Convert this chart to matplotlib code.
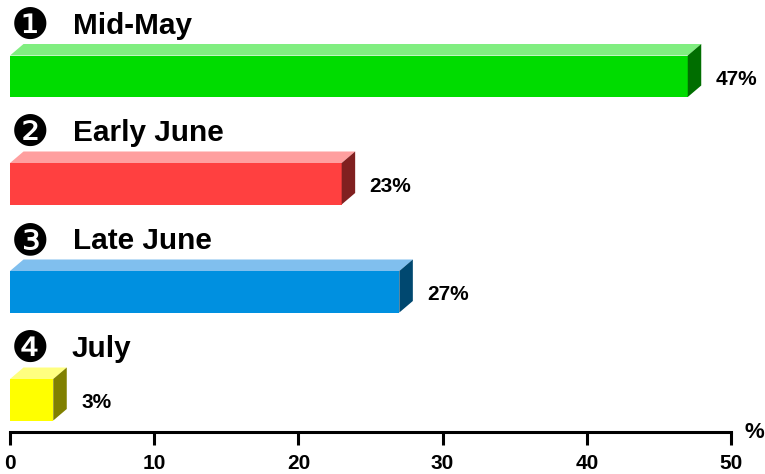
import matplotlib
matplotlib.use("Agg")
import matplotlib.pyplot as plt
from matplotlib.patches import Polygon, Rectangle

plt.rcParams["font.family"] = ["Liberation Sans", "DejaVu Sans"]
plt.rcParams["font.weight"] = "bold"

# data
periods = ["Mid-May", "Early June", "Late June", "July"]
shares = [47, 23, 27, 3]
markers = ["❶", "❷", "❸", "❹"]
ticks = [0, 10, 20, 30, 40, 50]

# front / top / side colour of each bar
front_colors = ["#00DC00", "#FF4040", "#0090E0", "#FFFF00"]
top_colors = ["#80EE80", "#FF9F9F", "#80BFEE", "#FFFF80"]
side_colors = ["#006E00", "#802020", "#004870", "#808000"]

W, H = 765, 474
AXIS_Y = 432  # pixels from the top
bar_tops = [55.5, 163, 271, 379]
bar_h = 41.5
depth_y = 11.5

fig = plt.figure(figsize=(W / 100, H / 100), dpi=100)
ax = fig.add_axes([10 / W, 1 - AXIS_Y / H, 721 / W, AXIS_Y / H])
ax.set_xlim(0, 50)
ax.set_ylim(AXIS_Y, 0)
ax.patch.set_alpha(0)

depth_x = 13.5 * 50 / 721  # 3d offset in data units

for i, val in enumerate(shares):
    top = bar_tops[i]
    bot = top + bar_h
    ax.add_patch(Rectangle((0, top), val, bar_h, fc=front_colors[i], ec="none", clip_on=False))
    ax.add_patch(Polygon([(0, top), (depth_x, top - depth_y), (val + depth_x, top - depth_y), (val, top)],
                         fc=top_colors[i], ec="none", clip_on=False))
    ax.add_patch(Polygon([(val, top), (val + depth_x, top - depth_y), (val + depth_x, bot - depth_y), (val, bot)],
                         fc=side_colors[i], ec="none", clip_on=False))

    ax.text(val + depth_x + 1.0, top + 24, f"{val}%", fontsize=15, fontweight="bold",
            va="center", ha="left", color="#000000")
    ax.text(0.03, top - 29, markers[i], fontsize=31, va="center", ha="left",
            family="DejaVu Sans", fontweight="normal", color="black")
    x_label = 4.28 if periods[i] == "July" else 4.35
    ax.text(x_label, top - 30, periods[i], fontsize=21.4, fontweight="bold", va="center", ha="left")

for s in ["top", "left", "right"]:
    ax.spines[s].set_visible(False)
ax.spines["bottom"].set_linewidth(2.2)
ax.set_yticks([])
ax.set_xticks(ticks)
ax.tick_params(axis="x", length=9, width=2.2, pad=6.5, labelsize=15)

ax.text(51.65, AXIS_Y + 0, "%", fontsize=16, fontweight="bold", ha="center", va="center")

fig.savefig("out.png", dpi=100)
